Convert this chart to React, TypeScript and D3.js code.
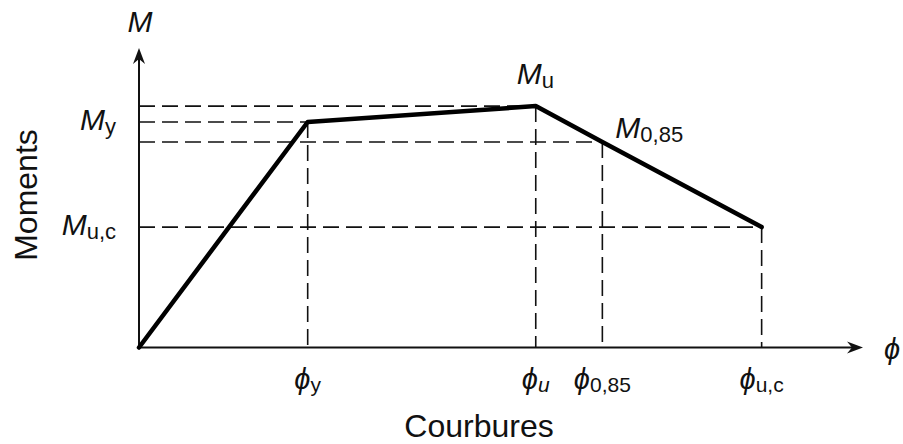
import React from "react";
import * as d3 from "d3";

// Key points of the moment-curvature law (abstract units, axes 0..10)
const pointNames = ["yield", "ultimate", "0,85", "collapse"];
const curvatureValues = [2.33, 5.48, 6.4, 8.6];
const momentValues = [7.53, 8.06, 6.86, 4.02];

// Tick label subscripts
const curvatureSubs = ["y", "u", "0,85", "u,c"];
const curvatureSubItalic = [false, true, false, false];
const momentAxisSubs = ["y", "u,c"];
const momentAxisIdx = [0, 3];

const PHI = "\u03D5";

const W = 903;
const H = 444;
const FONT = "'Liberation Sans', Arial, Helvetica, sans-serif";

export default function App() {
  const x = d3.scaleLinear().domain([0, 10]).range([139, 863]);
  const y = d3.scaleLinear().domain([0, 10]).range([347.5, 48]);

  const pts: [number, number][] = [[0, 0]].concat(
    curvatureValues.map((c, i) => [c, momentValues[i]])
  ) as [number, number][];

  const line = d3
    .line<[number, number]>()
    .x((d) => x(d[0]))
    .y((d) => y(d[1]));

  const x0 = x(0);
  const y0 = y(0);
  const xEnd = x.range()[1];
  const yEnd = y.range()[1];

  const arrowRight = `M${xEnd},${y0} L${xEnd - 16},${y0 - 6} L${xEnd - 11},${y0} L${xEnd - 16},${y0 + 6} Z`;
  const arrowUp = `M${x0},${yEnd} L${x0 - 6},${yEnd + 16} L${x0},${yEnd + 11} L${x0 + 6},${yEnd + 16} Z`;

  const dash = "16,7";

  return (
    <svg
      width={W}
      height={H}
      style={{ position: "absolute", left: 0, top: 0, background: "#fff" }}
      fontFamily={FONT}
    >
      <rect width={W} height={H} fill="#fff" />
      {/* dashed guide lines */}
      {curvatureValues.map((c, i) => (
        <g key={pointNames[i]} stroke="#111" strokeWidth={1.6} strokeDasharray={dash} fill="none">
          <line x1={x0} x2={x(c)} y1={y(momentValues[i])} y2={y(momentValues[i])} />
          <line x1={x(c)} x2={x(c)} y1={y(momentValues[i])} y2={y0} />
        </g>
      ))}
      {/* axes */}
      <line x1={x0} x2={xEnd - 8} y1={y0} y2={y0} stroke="#111" strokeWidth={2} />
      <line x1={x0} x2={x0} y1={y0} y2={yEnd + 8} stroke="#111" strokeWidth={2} />
      <path d={arrowRight} fill="#111" />
      <path d={arrowUp} fill="#111" />
      {/* curve */}
      <path
        d={line(pts) || ""}
        fill="none"
        stroke="#000"
        strokeWidth={4.5}
        strokeLinejoin="round"
        strokeLinecap="round"
      />
      {/* curvature tick labels */}
      {curvatureValues.map((c, i) => (
        <text key={"cl" + i} x={x(c)} y={389} textAnchor="middle" fill="#111">
          <tspan fontSize={29} fontStyle="italic">{PHI}</tspan>
          <tspan
            fontSize={21}
            dy={3}
            fontStyle={curvatureSubItalic[i] ? "italic" : "normal"}
          >
            {curvatureSubs[i]}
          </tspan>
        </text>
      ))}
      {/* moment axis labels */}
      {momentAxisIdx.map((idx, k) => (
        <text key={"ml" + k} x={116} y={y(momentValues[idx]) + 8} textAnchor="end" fill="#111">
          <tspan fontSize={30} fontStyle="italic">M</tspan>
          <tspan fontSize={22} dy={4}>{momentAxisSubs[k]}</tspan>
        </text>
      ))}
      {/* point labels */}
      <text x={x(curvatureValues[1]) - 19} y={y(momentValues[1]) - 22} fill="#111">
        <tspan fontSize={30} fontStyle="italic">M</tspan>
        <tspan fontSize={22} dy={4}>u</tspan>
      </text>
      <text x={x(curvatureValues[2]) + 13} y={y(momentValues[2]) - 4} fill="#111">
        <tspan fontSize={30} fontStyle="italic">M</tspan>
        <tspan fontSize={22} dy={4}>0,85</tspan>
      </text>
      {/* axis end labels */}
      <text x={x0 + 1} y={32} textAnchor="middle" fontSize={30} fontStyle="italic" fill="#111">
        M
      </text>
      <text x={884} y={359} fontSize={29} fontStyle="italic" fill="#111">
        {PHI}
      </text>
      {/* axis titles */}
      <text x={479} y={437} textAnchor="middle" fontSize={32} fill="#111">
        Courbures
      </text>
      <text
        transform={`translate(37,195) rotate(-90)`}
        textAnchor="middle"
        fontSize={32}
        fill="#111"
      >
        Moments
      </text>
    </svg>
  );
}
